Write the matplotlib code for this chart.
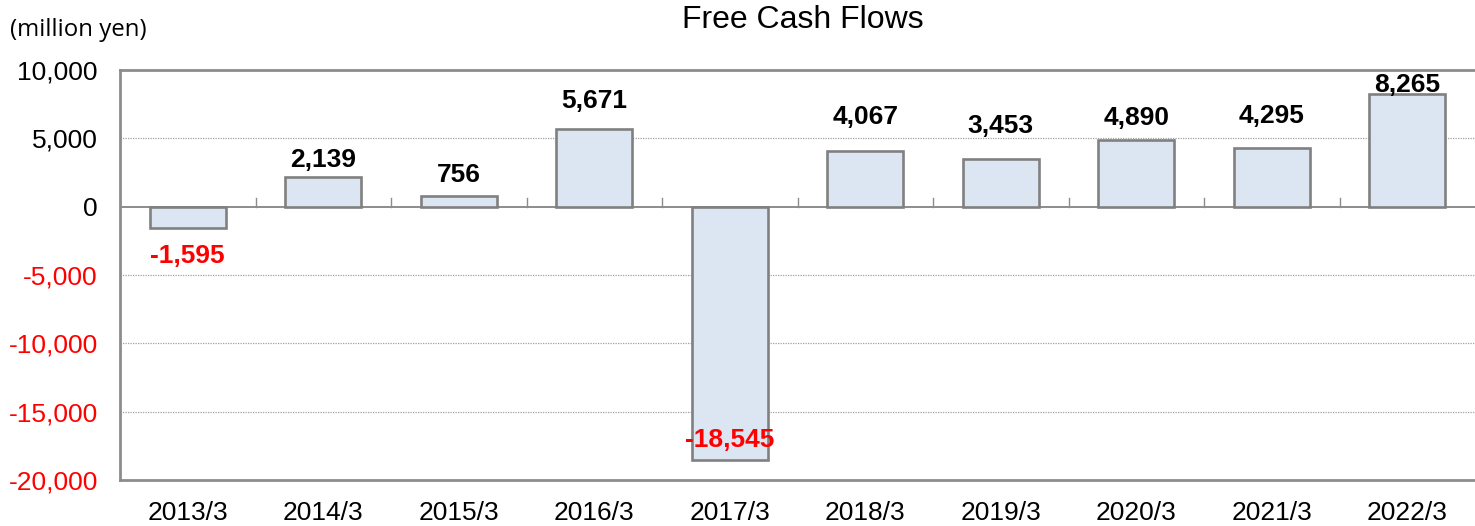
import matplotlib
matplotlib.use("Agg")
import matplotlib.pyplot as plt
import numpy as np

categories = ["2013/3", "2014/3", "2015/3", "2016/3", "2017/3",
              "2018/3", "2019/3", "2020/3", "2021/3", "2022/3"]
values = [-1595, 2139, 756, 5671, -18545, 4067, 3453, 4890, 4295, 8265]
yticks = [-20000, -15000, -10000, -5000, 0, 5000, 10000]

# label baseline offsets from the bar end (pixels, + = up), as placed in the original
label_offset_px = [-35, 10, 14, 21, 13.5, 27, 26, 15, 25, 2]

plt.rcParams['font.family'] = ['Liberation Sans', 'DejaVu Sans']

DPI = 100
fig = plt.figure(figsize=(14.75, 5.26), dpi=DPI)
ax = fig.add_axes([120/1475, 1 - 480/526, 1 - 120/1475, (480-70)/526])

x = np.arange(len(categories))
ax.bar(x, values, width=0.56, color="#DCE6F2", edgecolor="#808080", linewidth=1.9, zorder=3)

ax.set_xlim(-0.5, len(categories) - 0.5)
ymin, ymax = -20000, 10000
ax.set_ylim(ymin, ymax)

# grid lines
for t in yticks:
    if t not in (0, ymax, ymin):
        ax.axhline(t, color="#A0A0A0", linestyle=(0, (1, 1)), linewidth=0.9, zorder=1)
# zero line
ax.axhline(0, color="#8C8C8C", linewidth=1.4, zorder=2)
# category boundary ticks on zero line
for b in np.arange(0.5, len(categories) - 0.5, 1.0):
    ax.plot([b, b], [0, 600], color="#8C8C8C", linewidth=1.0, zorder=2)

ax.set_yticks(yticks)
ax.set_yticklabels([f"{t:,}" for t in yticks], fontsize=19)
for lbl, t in zip(ax.get_yticklabels(), yticks):
    lbl.set_color("red" if t < 0 else "black")
ax.tick_params(axis='y', length=0, pad=16)
ax.set_xticks(x)
ax.set_xticklabels(categories, fontsize=19)
ax.tick_params(axis='x', length=0, pad=15)

for s in ["left", "top", "bottom"]:
    ax.spines[s].set_color("#8C8C8C")
    ax.spines[s].set_linewidth(2.0)
ax.spines["right"].set_visible(False)

for xi, v, off in zip(x, values, label_offset_px):
    ax.annotate(f"{v:,}", (xi, v), xytext=(0, off * 72 / DPI), textcoords="offset points",
                ha="center", va="baseline", fontsize=19, fontweight="bold",
                color="red" if v < 0 else "black", zorder=4)

fig.text(803/1475, 1 - 20/526, "Free Cash Flows", ha="center", va="center", fontsize=23)
fig.text(10/1475, 1 - 30/526, "(million yen)", ha="left", va="center", fontsize=17.3,
         family=["Open Sans", "DejaVu Sans"])

fig.savefig("out.png", dpi=DPI)
